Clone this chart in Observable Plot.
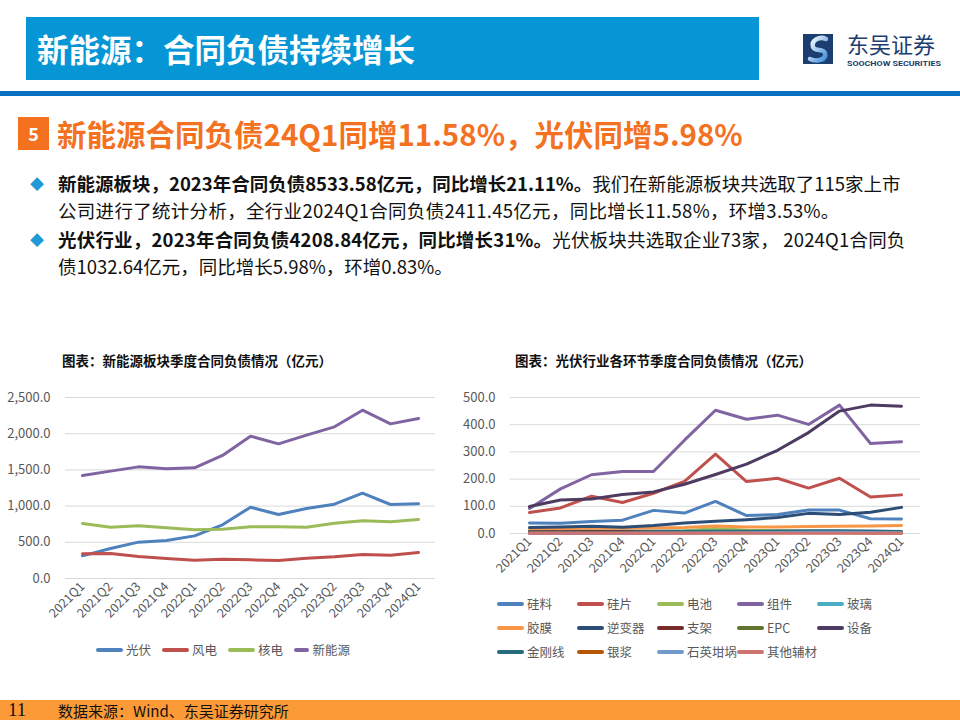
<!DOCTYPE html>
<html><head><meta charset="utf-8">
<script src="https://cdn.jsdelivr.net/npm/d3@7"></script>
<script src="https://cdn.jsdelivr.net/npm/@observablehq/plot@0.6"></script>
<style>
html,body{margin:0;padding:0;background:#fff;}
body{width:960px;height:720px;position:relative;overflow:hidden;font-family:"Noto Sans CJK SC","Noto Sans",sans-serif;}
.abs{position:absolute;white-space:nowrap;}
#hdr{left:26px;top:17px;width:733px;height:63px;background:#0796D5;}
#hdrTitle{left:37px;top:29px;font-size:31.5px;font-weight:bold;color:#fff;line-height:38px;}
#rule{left:0;top:91px;width:960px;height:5px;background:#0A70C0;}
#sec5{left:18px;top:117px;width:31px;height:33px;background:#F4711F;color:#fff;font-weight:bold;font-size:18px;text-align:center;line-height:33px;}
#secTitle{left:57px;top:113px;font-size:29.5px;font-weight:bold;color:#F4711F;line-height:40px;}
.bul{color:#1E9AD6;font-size:14px;line-height:27px;left:30px;}
.txt{left:58px;font-size:18.5px;line-height:27px;color:#111;}
.ctitle{font-size:13.5px;font-weight:bold;color:#111;line-height:18px;}
.leg{font-size:12.5px;color:#595959;line-height:16px;display:flex;align-items:center;}
.leg i{display:inline-block;width:27px;height:4px;border-radius:2px;margin-right:3px;}
#footer{left:0;top:700px;width:960px;height:20px;background:#FD9A38;}
#pg{left:8px;top:699px;font-family:"Liberation Serif","DejaVu Serif",serif;font-size:19px;color:#111;line-height:22px;}
#src{left:58px;top:701px;font-size:15px;color:#111;line-height:19px;}
</style></head><body>
<div id="hdr" class="abs"></div>
<div id="hdrTitle" class="abs">新能源：合同负债持续增长</div>
<div id="rule" class="abs"></div>
<svg class="abs" style="left:800px;top:28px" width="150" height="42">
  <defs><linearGradient id="lg" x1="0" y1="0" x2="1" y2="1"><stop offset="0" stop-color="#ffffff"/><stop offset="1" stop-color="#3E8ED8"/></linearGradient></defs>
  <rect x="3" y="6" width="30" height="30" fill="#1B3D70"/>
  <path d="M26,11 C20,8 11,12 13,19 C15,24 23,20 25,25 C27,32 17,34 10,31" fill="none" stroke="url(#lg)" stroke-width="4.5" stroke-linecap="round"/>
  <text x="47" y="25" font-size="22" fill="#1B3D70" font-family="Noto Sans CJK SC">东吴证券</text>
  <text x="47" y="37.5" font-size="7.5" font-weight="bold" fill="#1B3D70" font-family="Roboto,Noto Sans" textLength="94" lengthAdjust="spacingAndGlyphs">SOOCHOW SECURITIES</text>
</svg>
<div id="sec5" class="abs">5</div>
<div id="secTitle" class="abs">新能源合同负债24Q1同增11.58%，光伏同增5.98%</div>
<div class="abs bul" style="top:170px">◆</div>
<div class="abs txt" style="top:170px"><b>新能源板块，2023年合同负债8533.58亿元，同比增长21.11%。</b>我们在新能源板块共选取了115家上市</div>
<div class="abs txt" style="top:197px;letter-spacing:0.3px">公司进行了统计分析，全行业2024Q1合同负债2411.45亿元，同比增长11.58%，环增3.53%。</div>
<div class="abs bul" style="top:226px">◆</div>
<div class="abs txt" style="top:226px;letter-spacing:0.2px"><b>光伏行业，2023年合同负债4208.84亿元，同比增长31%。</b>光伏板块共选取企业73家， 2024Q1合同负</div>
<div class="abs txt" style="top:253px">债1032.64亿元，同比增长5.98%，环增0.83%。</div>

<div class="abs ctitle" style="left:62px;top:351px">图表：新能源板块季度合同负债情况（亿元）</div>
<div class="abs ctitle" style="left:515px;top:351px">图表：光伏行业各环节季度合同负债情况（亿元）</div>
<div id="chartL" class="abs" style="left:0;top:380px"></div>
<div id="chartR" class="abs" style="left:455px;top:380px"></div>
<div id="legL" class="abs" style="left:96px;top:642px;display:flex;gap:10px"></div>
<div id="legR" class="abs" style="left:497px;top:596px;width:420px"></div>

<div id="footer" class="abs"></div>
<div id="pg" class="abs">11</div>
<div id="src" class="abs">数据来源：Wind、东吴证券研究所</div>

<script>
// ---------- data ----------
const quarters = ["2021Q1","2021Q2","2021Q3","2021Q4","2022Q1","2022Q2","2022Q3","2022Q4","2023Q1","2023Q2","2023Q3","2023Q4","2024Q1"];

// left chart: 新能源板块 (亿元)
const leftSeries = ["光伏","风电","核电","新能源"];
const leftColors = ["#4F81BD","#C0504D","#9BBB59","#8064A2"];
const pvLiab      = [313,414,502,525,589,741,985,884,967,1027,1179,1022,1031];
const windLiab    = [341,345,304,276,253,267,258,249,281,299,331,322,359];
const nuclearLiab = [760,709,727,700,672,681,714,714,709,764,797,783,815];
const newEnergyLiab = [1423,1483,1542,1515,1529,1699,1966,1860,1980,2095,2325,2136,2210];
const leftTicks = [0,500,1000,1500,2000,2500];

// right chart: 光伏各环节 (亿元)
const rightSeries = ["硅料","硅片","电池","组件","玻璃","胶膜","逆变器","支架","EPC","设备","金刚线","银浆","石英坩埚","其他辅材"];
const rightColors = ["#4F81BD","#C0504D","#9BBB59","#8064A2","#4BACC6","#F79646","#2C4D75","#772C2A","#5F7530","#4D3B62","#276A7C","#B65708","#729ACA","#CD7371"];
const siliconMat = [39,38,44,49,85,75,118,66,70,86,86,54,53];
const wafer      = [77,94,137,114,148,192,292,191,203,167,203,134,142];
const cell       = [5,5,6,6,7,10,18,12,10,8,8,6,5];
const module_    = [92,164,216,228,228,343,453,420,435,401,472,331,337];
const glass      = [12,11,10,9,9,8,8,7,7,7,6,6,6];
const film       = [18,18,19,19,20,22,28,24,24,26,27,28,29];
const inverter   = [22,24,27,23,29,39,45,51,59,74,70,78,96];
const mounting   = [6,6,7,7,6,6,7,6,6,6,5,5,5];
const epc        = [3,3,3,3,3,4,4,4,4,4,4,3,3];
const equipment  = [99,123,127,143,153,181,217,255,306,371,450,472,468];
const diamondWire= [3,4,5,5,6,7,8,8,9,10,10,9,7];
const silverPaste= [2,2,2,2,2,2,3,3,3,3,3,2,2];
const quartz     = [1,1,1,1,2,2,3,3,4,5,5,4,3];
const otherAux   = [1,1,1,1,1,1,1,1,1,1,1,1,1];
const rightTicks = [0,100,200,300,400,500];

// ---------- build ----------
function longData(names, arrays){
  const out=[];
  names.forEach((n,i)=>arrays[i].forEach((v,j)=>out.push({series:n,q:quarters[j],v})));
  return out;
}
const leftData = longData(leftSeries,[pvLiab,windLiab,nuclearLiab,newEnergyLiab]);
const rightData = longData(rightSeries,[siliconMat,wafer,cell,module_,glass,film,inverter,mounting,epc,equipment,diamondWire,silverPaste,quartz,otherAux]);

function makeChart(data, names, colors, ticks, dom, opts){
  return Plot.plot({
    width: opts.width, height: opts.height,
    marginLeft: opts.ml, marginRight: opts.mr, marginTop: opts.mt, marginBottom: opts.mb,
    style:{fontFamily:"'Noto Sans CJK SC','Noto Sans',sans-serif", fontSize:"12.5px", color:"#595959", background:"transparent"},
    x:{type:"point", domain:quarters, padding:0.5, label:null},
    y:{domain:dom, label:null},
    color:{domain:names, range:colors},
    marks:[
      Plot.gridY(ticks,{stroke:"#D9D9D9", strokeOpacity:1, strokeWidth:1}),
      Plot.axisY(ticks,{tickFormat:d3.format(opts.fmt), tickSize:0, tickPadding:opts.tp, fontSize:opts.fsY, fill:"#595959", label:null}),
      Plot.axisX({tickRotate:-45, tickSize:0, tickPadding:6, fontSize:opts.fsX, fill:"#595959", label:null}),
      ...names.map(n=>Plot.line(data.filter(d=>d.series===n),{x:"q", y:"v", stroke:"series", strokeWidth:3, strokeLinejoin:"round", strokeLinecap:"round"}))
    ]
  });
}

document.getElementById("chartL").appendChild(makeChart(leftData,leftSeries,leftColors,leftTicks,[0,2500],
  {width:470,height:262,ml:65,mr:35,mt:17,mb:64,fmt:",.1f",tp:15,fsY:13,fsX:12.5}));
document.getElementById("chartR").appendChild(makeChart(rightData,rightSeries,rightColors,rightTicks,[0,500],
  {width:480,height:215,ml:55,mr:15,mt:17,mb:62,fmt:",.1f",tp:15,fsY:13,fsX:12.5}));

// legends
const legL=document.getElementById("legL");
leftSeries.forEach((n,i)=>{const d=document.createElement("div");d.className="leg";d.innerHTML=`<i style="background:${leftColors[i]}"></i>${n}`;d.style.width="56px";legL.appendChild(d);});
const legR=document.getElementById("legR");
rightSeries.forEach((n,i)=>{const d=document.createElement("div");d.className="leg abs";d.style.left=(i%5)*80+"px";d.style.top=Math.floor(i/5)*24+"px";d.innerHTML=`<i style="background:${rightColors[i]}"></i>${n}`;legR.appendChild(d);});
</script>
</body></html>
